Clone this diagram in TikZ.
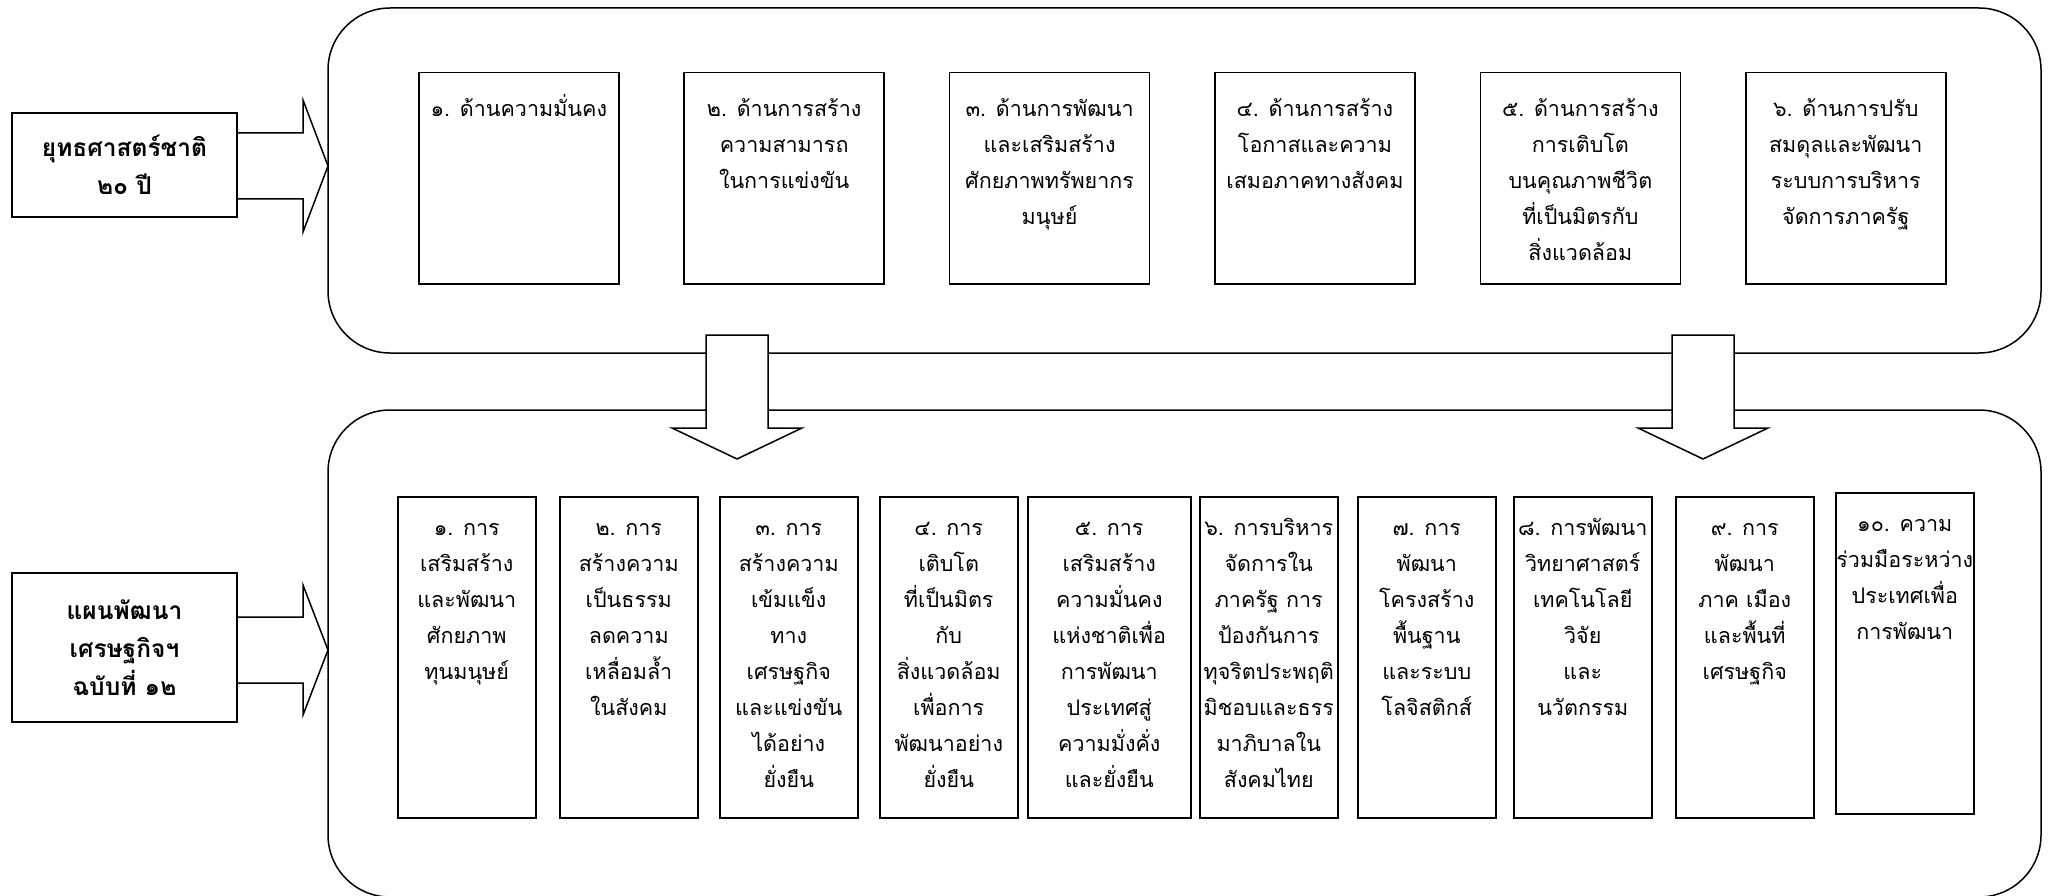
\documentclass[tikz,border=0pt]{standalone}
\usepackage{fontspec}
\newfontfamily\thaifont[Script=Thai]{Loma}
\usetikzlibrary{positioning}

\tikzset{
  planframe/.style={draw, line width=1.5pt, rounded corners=62pt},
  goalbox/.style={draw, line width=1.5pt, anchor=north west, inner sep=0pt},
  boxtext/.style={anchor=north, align=center, inner sep=0pt, font=\thaifont\fontsize{21.5}{36}\selectfont},
  titlebox/.style={draw, line width=1.5pt, align=center, inner sep=0pt, minimum width=225pt, font=\thaifont\bfseries\fontsize{24.5}{38}\selectfont},
  blockarrow/.style={draw, line width=1.5pt, line join=miter},
}

\begin{document}
\begin{tikzpicture}[x=1pt,y=-1pt]
\useasboundingbox (0,0) rectangle (2053,896);
% the two frames
\draw[planframe] (328,8) rectangle (2041,353);
\draw[planframe] (328,410) rectangle (2041,897);

% titles on the left
\node[titlebox, minimum height=104pt] (strategy) at (124.5,165) {ยุทธศาสตร์ชาติ\\๒๐ ปี};
\node[titlebox, minimum height=149pt] (devplan) at (124.5,647.5) {แผนพัฒนา\\เศรษฐกิจฯ\\ฉบับที่ ๑๒};

% arrows into the frames
\draw[blockarrow] (strategy.east |- 0,133) -- (303,133) -- (303,100) -- (328,166) -- (303,232) -- (303,199) -- (strategy.east |- 0,199);
\draw[blockarrow] (devplan.east |- 0,617) -- (303,617) -- (303,585) -- (328,650) -- (303,715) -- (303,683) -- (devplan.east |- 0,683);

% arrows between the frames
\foreach \ax in {737,1703}
  \draw[blockarrow, fill=white] (\ax-31,335) -- (\ax+31,335) -- (\ax+31,428) -- (\ax+65,428) -- (\ax,459) -- (\ax-65,428) -- (\ax-31,428) -- cycle;

% strategy goals
\foreach \txt [count=\i] in {
  {๑. ด้านความมั่นคง},
  {๒. ด้านการสร้าง\\ความสามารถ\\ในการแข่งขัน},
  {๓. ด้านการพัฒนา\\และเสริมสร้าง\\ศักยภาพทรัพยากร\\มนุษย์},
  {๔. ด้านการสร้าง\\โอกาสและความ\\เสมอภาคทางสังคม},
  {๕. ด้านการสร้าง\\การเติบโต\\บนคุณภาพชีวิต\\ที่เป็นมิตรกับ\\สิ่งแวดล้อม},
  {๖. ด้านการปรับ\\สมดุลและพัฒนา\\ระบบการบริหาร\\จัดการภาครัฐ}} {
  \node[goalbox, minimum width=200pt, minimum height=211pt] (goal\i) at ({418+265.4*(\i-1)},72) {};
  \node[boxtext] (goaltext\i) at ([yshift=-19pt]goal\i.north) {\strut\txt};
}

% plan strategies
\foreach \bx/\by/\bw/\txt [count=\i] in {
  397/496/138/{๑. การ\\เสริมสร้าง\\และพัฒนา\\ศักยภาพ\\ทุนมนุษย์},
  559/496/138/{๒. การ\\สร้างความ\\เป็นธรรม\\ลดความ\\เหลื่อมล้ำ\\ในสังคม},
  719/496/138/{๓. การ\\สร้างความ\\เข้มแข็ง\\ทาง\\เศรษฐกิจ\\และแข่งขัน\\ได้อย่าง\\ยั่งยืน},
  879/496/138/{๔. การ\\เติบโต\\ที่เป็นมิตร\\กับ\\สิ่งแวดล้อม\\เพื่อการ\\พัฒนาอย่าง\\ยั่งยืน},
  1027/496/163/{๕. การ\\เสริมสร้าง\\ความมั่นคง\\แห่งชาติเพื่อ\\การพัฒนา\\ประเทศสู่\\ความมั่งคั่ง\\และยั่งยืน},
  1199/496/138/{๖. การบริหาร\\จัดการใน\\ภาครัฐ การ\\ป้องกันการ\\ทุจริตประพฤติ\\มิชอบและธรร\\มาภิบาลใน\\สังคมไทย},
  1357/496/138/{๗. การ\\พัฒนา\\โครงสร้าง\\พื้นฐาน\\และระบบ\\โลจิสติกส์},
  1513/496/138/{๘. การพัฒนา\\วิทยาศาสตร์\\เทคโนโลยี\\วิจัย\\และ\\นวัตกรรม},
  1675/496/138/{๙. การ\\พัฒนา\\ภาค เมือง\\และพื้นที่\\เศรษฐกิจ},
  1835/492/138/{๑๐. ความ\\ร่วมมือระหว่าง\\ประเทศเพื่อ\\การพัฒนา}} {
  \node[goalbox, minimum width=\bw, minimum height=321pt] (way\i) at (\bx,\by) {};
  \node[boxtext] (waytext\i) at ([yshift=-14pt]way\i.north) {\strut\txt};
}
\end{tikzpicture}
\end{document}
